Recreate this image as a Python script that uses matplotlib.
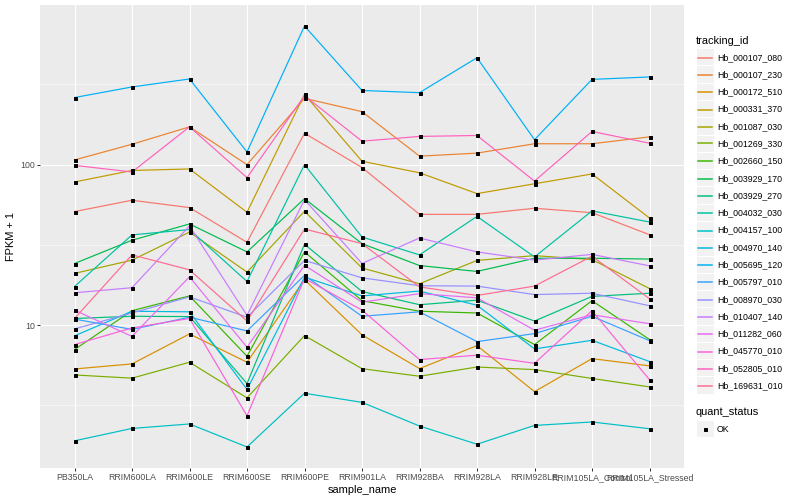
import numpy as np
import matplotlib
matplotlib.use("Agg")
import matplotlib.pyplot as plt
from matplotlib.patches import Rectangle
from matplotlib.lines import Line2D

plt.rcParams['font.family'] = ['Liberation Sans', 'DejaVu Sans']

samples = ["PB350LA", "RRIM600LA", "RRIM600LE", "RRIM600SE", "RRIM600PE",
           "RRIM901LA", "RRIM928BA", "RRIM928LA", "RRIM928LE",
           "RRIM105LA_Control", "RRIM105LA_Stressed"]

tracking_ids = ["Hb_000107_080", "Hb_000107_230", "Hb_000172_510", "Hb_000331_370",
                "Hb_001087_030", "Hb_001269_330", "Hb_002660_150", "Hb_003929_170",
                "Hb_003929_270", "Hb_004032_030", "Hb_004157_100", "Hb_004970_140",
                "Hb_005695_120", "Hb_005797_010", "Hb_008970_030", "Hb_010407_140",
                "Hb_011282_060", "Hb_045770_010", "Hb_052805_010", "Hb_169631_010"]

# FPKM + 1 values, one list per tracking_id, in sample order
hb_000107_080 = [51, 60, 54, 32.8, 157, 96, 49, 49, 53.5, 50.2, 36.6]
hb_000107_230 = [107, 134, 172, 100, 259, 214, 113, 118, 135, 135, 149]
hb_000172_510 = [5.33, 5.73, 8.81, 5.87, 19.2, 8.69, 5.36, 7.45, 3.85, 6.18, 5.57]
hb_000331_370 = [78, 92, 94, 50.5, 274, 105, 89, 66, 76, 87.5, 46.5]
hb_001087_030 = [21.0, 25.4, 38.0, 21.4, 51.2, 22.7, 18.1, 25.3, 27.1, 25.6, 16.9]
hb_001269_330 = [4.89, 4.67, 5.87, 3.52, 8.6, 5.35, 4.80, 5.48, 5.28, 4.65, 4.12]
hb_002660_150 = [7.04, 12.3, 15.2, 6.40, 28.6, 14.2, 12.2, 11.9, 7.56, 14.2, 8.13]
hb_003929_170 = [24.2, 33.8, 42.7, 28.6, 61.4, 32.2, 23.5, 21.6, 26.1, 26.1, 25.8]
hb_003929_270 = [11.0, 11.35, 11.3, 4.32, 31.9, 16.2, 13.4, 14.3, 10.6, 15.1, 15.8]
hb_004032_030 = [17.4, 36.5, 39.4, 18.7, 100, 35.4, 27.4, 47.6, 26.6, 51.5, 43.9]
hb_004157_100 = [1.90, 2.27, 2.42, 1.74, 3.76, 3.30, 2.35, 1.81, 2.37, 2.49, 2.26]
hb_004970_140 = [8.57, 12.2, 12.1, 3.97, 19.9, 15.2, 16.3, 13.3, 7.11, 8.04, 5.93]
hb_005695_120 = [262, 305, 342, 120, 731, 290, 281, 464, 143, 340, 352]
hb_005797_010 = [10.9, 9.4, 11.2, 9.2, 20.4, 11.35, 12.1, 7.89, 8.85, 11.35, 8.0]
hb_008970_030 = [9.47, 11.9, 15.0, 11.2, 25.3, 19.7, 17.6, 17.5, 15.5, 15.8, 13.2]
hb_010407_140 = [15.9, 17.1, 41.5, 11.5, 60.5, 24.2, 34.9, 28.6, 25.4, 27.6, 23.4]
hb_011282_060 = [12.4, 8.5, 20.0, 7.28, 23.6, 13.9, 15.7, 14.8, 9.29, 11.6, 10.2]
hb_045770_010 = [7.56, 9.6, 11.0, 2.72, 19.5, 12.4, 6.1, 6.49, 5.78, 12.3, 4.57]
hb_052805_010 = [99, 90, 172, 83, 269, 140, 150, 152, 79, 161, 136]
hb_169631_010 = [11.0, 27.4, 22.1, 10.6, 39.7, 32.2, 17.3, 15.3, 17.5, 26.9, 14.6]

series = [hb_000107_080, hb_000107_230, hb_000172_510, hb_000331_370, hb_001087_030,
          hb_001269_330, hb_002660_150, hb_003929_170, hb_003929_270, hb_004032_030,
          hb_004157_100, hb_004970_140, hb_005695_120, hb_005797_010, hb_008970_030,
          hb_010407_140, hb_011282_060, hb_045770_010, hb_052805_010, hb_169631_010]

colors = ["#F8766D", "#EA8331", "#D89000", "#C09B00", "#A3A500", "#7CAE00", "#39B600",
          "#00BB4E", "#00BF7D", "#00C1A3", "#00BFC4", "#00BAE0", "#00B0F6", "#35A2FF",
          "#9590FF", "#C77CFF", "#E76BF3", "#FA62DB", "#FF62BC", "#FF6C91"]

W, H = 800, 500
fig = plt.figure(figsize=(W / 72, H / 72), dpi=72)
fig.patch.set_facecolor("white")

def fx(px):
    return px / W

def fy(py):
    return 1 - py / H

ax = fig.add_axes([fx(40), fy(468), fx(684) - fx(40), fy(5) - fy(468)])
ax.set_facecolor("#EBEBEB")
for s in ax.spines.values():
    s.set_visible(False)

x = np.arange(len(samples))
for vals, c in zip(series, colors):
    ax.plot(x, vals, color=c, lw=1.2, zorder=3, solid_capstyle="butt")
for vals in series:
    ax.plot(x, vals, ls="none", marker="s", ms=3.0, color="black", zorder=4)

ax.set_yscale("log")
allv = np.concatenate([np.asarray(v, float) for v in series])
lo, hi = np.log10(allv.min()), np.log10(allv.max())
pad = 0.05 * (hi - lo)
ax.set_ylim(10 ** (lo - pad), 10 ** (hi + pad))
ax.set_xlim(-0.6, len(samples) - 1 + 0.6)

ax.yaxis.set_major_locator(matplotlib.ticker.FixedLocator([10, 100]))
ax.yaxis.set_minor_locator(matplotlib.ticker.NullLocator())
ax.set_yticks([10, 100])
ax.set_yticklabels(["10", "100"])
ax.set_xticks(x)
ax.set_xticklabels(samples)

# grid
for yv in [10, 100]:
    ax.axhline(yv, color="white", lw=1.1, zorder=1)
for yv in [10 ** 0.5, 10 ** 1.5, 10 ** 2.5]:
    ax.axhline(yv, color="white", lw=0.55, zorder=1)
for xv in x:
    ax.axvline(xv, color="white", lw=1.1, zorder=1)

ax.tick_params(axis="both", which="major", length=2.75, width=1.0, color="#333333",
               labelsize=8.8, labelcolor="#4D4D4D", pad=2.2)
ax.tick_params(axis="both", which="minor", length=0)

ax.set_xlabel("sample_name", fontsize=11, color="black", labelpad=3)
ax.set_ylabel("FPKM + 1", fontsize=11, color="black", labelpad=4)

# legend: tracking_id
fig.text(fx(696), fy(40.7), "tracking_id", fontsize=11, ha="left", va="center")
key_h = 17.28
y0 = 57.3
for i, (tid, c) in enumerate(zip(tracking_ids, colors)):
    yc = y0 + i * key_h
    yl = np.floor(yc) + 0.5
    fig.add_artist(Rectangle((fx(696.5), fy(yc + key_h / 2 - 0.5)),
                             fx(17.28), (key_h - 1) / H,
                             transform=fig.transFigure, facecolor="#F2F2F2",
                             edgecolor="none", zorder=1))
    fig.add_artist(Line2D([fx(698.2), fx(712)], [fy(yl), fy(yl)],
                          transform=fig.transFigure, color=c, lw=1.5, zorder=5))
    fig.text(fx(717), fy(yc), tid, fontsize=8.8, ha="left", va="center")

# legend: quant_status
fig.text(fx(696), fy(412), "quant_status", fontsize=11, ha="left", va="center")
yc = 429.3
fig.add_artist(Rectangle((fx(696.5), fy(yc + key_h / 2 - 0.5)), fx(17.28),
                         (key_h - 1) / H, transform=fig.transFigure,
                         facecolor="#F2F2F2", edgecolor="none", zorder=1))
fig.add_artist(Line2D([fx(705.1)], [fy(yc)], transform=fig.transFigure,
                      marker="s", ms=3.0, color="black", ls="none", zorder=5))
fig.text(fx(717), fy(yc), "OK", fontsize=8.8, ha="left", va="center")

fig.savefig("out.png", dpi=72, facecolor="white")
